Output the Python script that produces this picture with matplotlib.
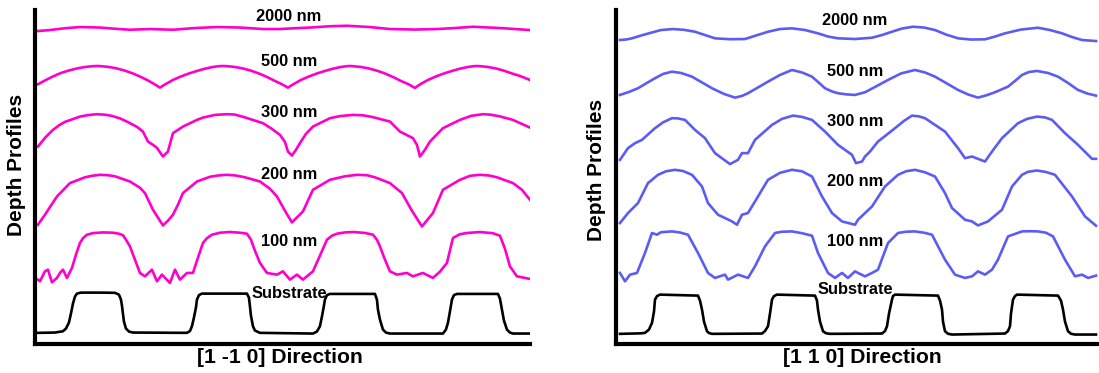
import matplotlib
matplotlib.use("Agg")
import matplotlib.pyplot as plt

# Profiles along [1 -1 0]: lateral position (a.u.) and stacked height (a.u.)
xa_2000 = [3, 15, 30, 45, 65, 80, 95, 115, 138, 160, 182, 205, 228, 245, 260, 275, 295, 312, 335, 355, 380, 402, 420, 438, 465, 480, 495]
ha_2000 = [313, 314, 315.8, 317, 316.5, 315.3, 314.3, 315, 314.3, 316, 317, 316.5, 315, 315, 315.8, 316.5, 317.8, 318.3, 317, 315, 314.5, 315, 316, 317.3, 316, 315, 314]

xa_500 = [3, 10, 18, 26, 34, 42, 50, 58, 62, 66, 74, 82, 90, 98, 106, 114, 120, 125,
	130, 138, 146, 154, 162, 170, 178, 184, 188, 192, 200, 208, 216, 224, 232, 240, 247, 253,
	258, 266, 274, 282, 290, 298, 306, 312, 315, 318, 326, 334, 342, 350, 358, 366, 374, 380,
	385, 393, 401, 409, 417, 425, 433, 439, 442, 445, 453, 461, 469, 477, 485, 495]
ha_500 = [259.7, 263.5, 267.5, 271, 273.5, 275.5, 277, 277.8, 278, 277.8, 277, 275.5, 273.3, 270.5, 267, 263, 259.5, 256.3,
	259.5, 264, 267.5, 270.5, 273, 275.3, 277, 277.8, 278, 277.8, 277, 275.5, 273.3, 270.5, 267, 263, 259.7, 256.3,
	259.5, 264, 267.5, 270.5, 273, 275.3, 277, 277.8, 278, 277.8, 277, 275.5, 273.3, 270.5, 267, 263, 259.5, 256,
	259.5, 264, 267.5, 270.5, 273, 275.3, 277, 277.8, 278, 277.8, 277, 275.5, 273.3, 270.5, 268, 264]

xa_300 = [3, 10, 18, 24, 30, 45, 53, 62, 70, 77, 85, 92, 102, 108, 113, 118, 122, 128, 133, 138, 148, 162, 168, 180, 192, 200, 210, 228, 237, 245, 250, 253, 257, 261, 265, 271, 278, 295, 305, 318, 328, 337, 355, 365, 378, 382, 385, 390, 395, 408, 425, 436, 448, 456, 465, 478, 495]
ha_300 = [197.3, 206, 214, 218.5, 222, 227.3, 228.8, 229.7, 229.2, 228, 225.5, 222.3, 217, 212.3, 202.3, 199, 196, 187.3, 192.3, 210.7, 217.3, 224, 226.3, 229, 229.7, 229.3, 226.5, 220.7, 215, 209, 202, 192.3, 188.3, 194, 200.7, 210, 217.3, 225.7, 227.8, 229, 228.6, 227, 222.3, 212.3, 205.7, 199, 187.3, 194, 202.3, 215.7, 224, 228, 229.7, 229.2, 227.5, 224, 216.3]

xa_200 = [3, 10, 22, 35, 50, 57, 65, 73, 80, 95, 105, 110, 118, 128, 133, 138, 143, 148, 162, 175, 183, 192, 201, 210, 225, 235, 242, 250, 257, 268, 278, 295, 310, 322, 332, 340, 355, 367, 377, 387, 398, 408, 425, 435, 445, 454, 462, 478, 487, 495]
ha_200 = [119, 129, 147.3, 160.7, 166.5, 168, 169, 168.6, 167.5, 162.3, 156, 150.7, 134, 118.3, 123, 129, 139, 150.7, 162.3, 167, 168.3, 169, 168.3, 166.5, 162.3, 155, 147.3, 133, 121.3, 132.3, 154, 164, 167.5, 169, 168.6, 166.5, 160.7, 150.7, 133, 117.3, 130.7, 154, 164, 168, 169, 168.3, 166.5, 160.7, 154, 144]

xa_100 = [3, 5, 10, 13, 17, 22, 25, 28, 32, 37, 41, 45, 48, 52, 58, 68, 78, 84, 88, 91, 95, 100, 105, 110, 117, 122, 127, 135, 140, 145, 152, 158,
	163, 168, 172, 177, 185, 195, 205, 212, 216, 220, 225, 232, 242, 248, 255, 262, 268, 278,
	285, 292, 297, 302, 310, 318, 330, 338, 342, 345, 350, 355, 362, 372, 378, 388, 398,
	405, 412, 418, 425, 432, 445, 458, 465, 470, 475, 482, 495]
ha_100 = [64, 62.3, 72.3, 74, 61.3, 65.7, 70.7, 74, 65.7, 75.7, 89, 100.7, 105.5, 109, 110.6, 111.3, 111, 110, 108.5, 104, 97.3, 84, 70.7, 67.3, 74, 62.3, 69, 60.7, 74, 64, 70.7, 70.7,
	86, 100.7, 105.5, 109, 111, 111.7, 111, 110, 104, 93, 80.7, 70.7, 69, 72.3, 64, 69, 64, 72.3,
	88, 104, 108, 110, 111.3, 111.7, 110.8, 109, 104, 97.3, 84, 72.3, 69, 70.7, 67.3, 70.7, 65.7,
	72, 80.7, 105.7, 109.5, 110.7, 111.7, 110.5, 108, 95, 77.3, 67.3, 64.7]

xa_sub = [3, 20, 28, 31, 34, 36, 38, 40, 42, 46, 65, 80, 84, 86, 87, 88, 89, 91, 94, 98,
	152, 155, 157, 159, 161, 162, 164, 167, 212, 214, 215, 216, 218, 220, 225,
	278, 282, 285, 287, 289, 290, 292, 295, 340, 342, 343, 345, 348, 351, 355,
	408, 411, 413, 415, 417, 419, 422, 463, 465, 467, 469, 472, 475, 478, 495]
ha_sub = [10.7, 11, 12.3, 15, 21, 30, 40, 47, 50, 51, 51, 50.8, 49, 44, 38, 30, 22, 15, 12, 11,
	10.7, 12.5, 17.3, 26, 36, 44, 48.5, 50, 50, 46, 37.3, 28, 17.3, 13, 10.7,
	10, 12, 17.3, 27, 38, 44, 48.5, 49.7, 49.7, 44, 34, 24, 14, 11, 10,
	10, 14, 20.7, 32, 44, 48.5, 49.7, 49.7, 45, 34, 23, 14, 11, 10, 10]

# Profiles along [1 1 0]
xb_2000 = [4, 10, 16, 25, 34, 45, 57, 68, 79, 89, 99, 114, 129, 140, 152, 164, 176, 189, 202, 212, 222, 239, 256, 266, 276, 286, 297, 308, 319, 330, 342, 355, 369, 379, 389, 405, 422, 434, 446, 456, 466, 480]
hb_2000 = [304, 304.5, 305.7, 308.5, 311, 314, 315, 314.2, 312.3, 309, 305.7, 304.8, 305, 308.5, 312.3, 315, 315.7, 314, 310.7, 307.5, 305.7, 305, 306.3, 309, 312.3, 315.5, 317.3, 316.5, 314, 309.5, 305.7, 304.5, 304.7, 307.5, 310.7, 314.5, 316.3, 314, 310.7, 307, 304, 303]

xb_500 = [4, 13, 22, 30, 39, 47, 56, 65, 76, 86, 96, 108, 119, 126, 132, 142, 152, 164, 176, 186, 196, 202, 209, 216, 222, 231, 239, 249, 260, 272, 285, 299, 309, 319, 330, 342, 352, 362, 370, 379, 392, 399, 406, 413, 421, 432, 442, 452, 462, 471, 480]
hb_500 = [249, 252, 255.7, 260.5, 265.7, 270, 272.3, 271, 267.3, 261.5, 255.7, 250, 246.3, 248, 250.7, 256.5, 262.3, 269, 274, 271.5, 267.3, 262, 255.7, 252.5, 250.7, 249.5, 249, 251.7, 257.5, 264, 270.5, 274, 271.5, 267.3, 261, 254, 249.5, 246.3, 248.5, 251.7, 257.3, 263, 269, 272, 273, 271, 267.3, 261, 254, 250.5, 248.3]

xb_300 = [4, 12, 19, 26, 39, 47, 56, 62, 69, 79, 89, 99, 114, 122, 126, 132, 139, 156, 166, 177, 186, 196, 209, 222, 236, 240, 246, 249, 254, 262, 279, 288, 296, 303, 309, 329, 342, 349, 356, 369, 376, 386, 402, 411, 421, 429, 436, 449, 462, 476, 480]
hb_300 = [184, 195.7, 200.7, 204, 215.7, 221.5, 225.7, 225.5, 224, 214, 205.7, 190.7, 179.7, 184, 190.7, 190.7, 204, 219, 225, 228.3, 227, 224, 212.3, 199, 189, 180.7, 182.3, 187.3, 192.3, 202.3, 215.7, 223, 228.3, 227.5, 225.7, 212.3, 195.7, 185.7, 187.3, 182.3, 192.3, 205.7, 220.7, 225, 227.3, 226.5, 224, 210.7, 199, 185, 185]

xb_200 = [4, 12, 22, 32, 42, 50, 59, 67, 76, 86, 92, 102, 116, 121, 126, 132, 142, 152, 164, 176, 186, 196, 206, 216, 226, 239, 242, 256, 269, 282, 290, 299, 309, 319, 329, 336, 349, 356, 362, 372, 386, 396, 406, 412, 421, 430, 439, 456, 469, 480]
hb_200 = [120.7, 130.7, 140.7, 160.7, 169, 172.5, 174, 172.8, 169, 157.3, 140.7, 129, 122.3, 119, 129, 130.7, 147.3, 164, 171, 174, 172.5, 167.3, 147.3, 130.7, 122.3, 119, 124, 137.3, 157.3, 169, 172.5, 174, 171.5, 167.3, 150.7, 135.7, 124, 122.3, 118.3, 122.3, 134, 157.3, 169, 172, 173.3, 171.8, 169, 147.3, 127.3, 118]

xb_100 = [4, 9, 14, 21, 29, 36, 41, 45, 56, 64, 72, 82, 92, 99, 109, 112, 122, 132, 139, 149, 159, 166, 176, 186, 196, 202, 212, 219, 226, 232, 239, 242, 249, 256, 262, 272, 282, 290, 299, 308, 316, 329, 339, 349, 356, 362, 369, 376, 382, 392, 406, 414, 422, 430, 437, 449, 459, 466, 472, 480]
hb_100 = [70.7, 62.3, 69, 70.7, 90.7, 110.7, 109, 111.5, 112.3, 111.2, 109, 90.7, 70.7, 65.7, 69, 64, 69, 65.7, 77.3, 97.3, 110.7, 112, 112.3, 110.5, 108, 90.7, 70.7, 65.7, 70.7, 65.7, 72.3, 70.7, 67.3, 70.7, 74, 100.7, 110.7, 112, 112.3, 111, 109, 84, 69, 65.7, 67.3, 72.3, 69, 74, 84, 107.3, 112.3, 112.5, 112.3, 111, 107.3, 84, 67.3, 69, 65.7, 68]

xb_sub = [4, 25, 29, 33, 36, 38, 39, 41, 44, 82, 84, 86, 88, 91, 93, 96,
	146, 149, 152, 154, 156, 158, 161, 199, 201, 202, 204, 207, 210, 214,
	266, 269, 271, 273, 276, 277, 279, 322, 324, 326, 327, 329, 332, 336,
	389, 392, 394, 395, 397, 399, 401, 442, 445, 447, 449, 452, 455, 459, 480]
hb_sub = [9.7, 10.2, 10.7, 14, 20.7, 32, 44, 47.5, 49, 48, 43, 34, 22, 12.3, 10.5, 9.7,
	10, 12.5, 17.3, 30, 44, 47.5, 49, 48, 43, 34, 22, 12.3, 10.3, 9.7,
	10, 12.5, 17.3, 30, 44, 47.5, 49, 48, 43, 34, 22, 12.3, 9.8, 9,
	10, 12.5, 17.3, 30, 44, 47.5, 49, 48, 43, 34, 22, 12.3, 9.8, 9, 9]

labels = ["2000 nm", "500 nm", "300 nm", "200 nm", "100 nm", "Substrate"]

FONT = "Liberation Sans"


def draw_panel(ax, profiles, color, xlabel, label_x, label_y, xmax):
	# Film profiles in colour, substrate in black
	for i, (x, h) in enumerate(profiles):
		c = "black" if i == len(profiles) - 1 else color
		ax.plot(x, h, color=c, lw=1.9, solid_joinstyle="round")

	for text, ly in zip(labels, label_y):
		ax.text(label_x, ly, text, ha="center", va="center", fontsize=11.8,
			fontweight="bold", family=FONT, zorder=5)

	ax.set_xlim(0, xmax)
	ax.set_ylim(0, 334)
	ax.set_xticks([])
	ax.set_yticks([])
	for side in ["top", "right"]:
		ax.spines[side].set_visible(False)
	for side in ["left", "bottom"]:
		ax.spines[side].set_linewidth(3)

	ax.set_xlabel(xlabel, fontsize=15.2, fontweight="bold", family=FONT)
	ax.set_ylabel("Depth Profiles", fontsize=15, fontweight="bold", family=FONT)


def main():
	fig = plt.figure(figsize=(10.99, 3.73), dpi=100)

	ax1 = fig.add_axes([0.0318, 0.079, 0.4504, 0.894])
	ax2 = fig.add_axes([0.5605, 0.079, 0.4395, 0.894])

	draw_panel(ax1,
		[(xa_2000, ha_2000), (xa_500, ha_500), (xa_300, ha_300),
		 (xa_200, ha_200), (xa_100, ha_100), (xa_sub, ha_sub)],
		"#ff00cc", "[1 -1 0] Direction", 254,
		[327.5, 282, 231.7, 169, 102, 50], 495)
	draw_panel(ax2,
		[(xb_2000, hb_2000), (xb_500, hb_500), (xb_300, hb_300),
		 (xb_200, hb_200), (xb_100, hb_100), (xb_sub, hb_sub)],
		"#5c5cf5", "[1 1 0] Direction", 239,
		[324, 272, 222, 162, 102, 54], 483)

	# Axis label placement
	ax1.xaxis.set_label_coords(0.495, -0.013)
	ax1.yaxis.set_label_coords(-0.018, 0.535)
	ax2.xaxis.set_label_coords(0.51, -0.013)
	ax2.yaxis.set_label_coords(-0.021, 0.52)

	fig.savefig("out.png", dpi=100)


if __name__ == "__main__":
	main()
